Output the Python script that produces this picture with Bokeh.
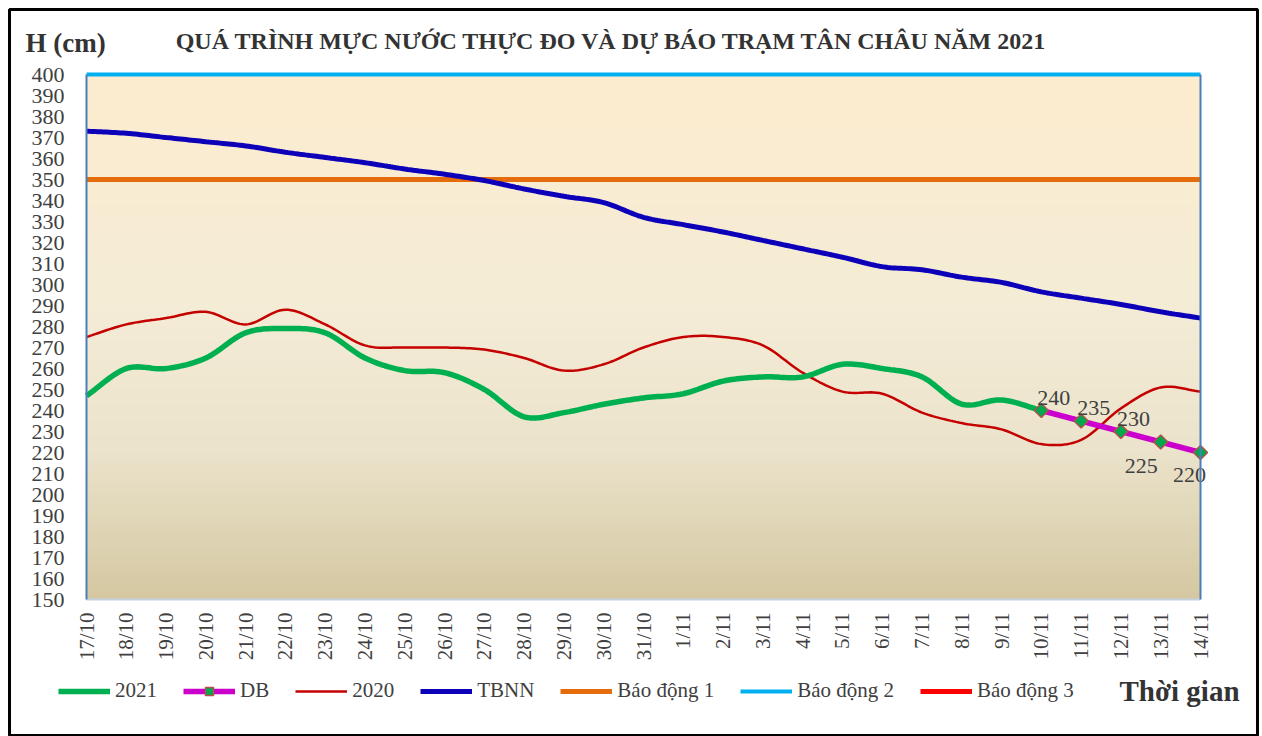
import math
import numpy as np
from bokeh.plotting import figure
from bokeh.models import FixedTicker, Label, Legend, LegendItem, LinearAxis, Range1d
from bokeh.embed import file_html
from bokeh.resources import INLINE
from bokeh.core.properties import value

# ---------------- data ----------------
dates = ["17/10", "18/10", "19/10", "20/10", "21/10", "22/10", "23/10", "24/10",
         "25/10", "26/10", "27/10", "28/10", "29/10", "30/10", "31/10", "1/11",
         "2/11", "3/11", "4/11", "5/11", "6/11", "7/11", "8/11", "9/11", "10/11",
         "11/11", "12/11", "13/11", "14/11"]
h2021 = [247, 260, 260, 265, 277, 279, 277, 265, 259, 258, 250, 237, 239, 243,
         246, 248, 254, 256, 256, 262, 260, 256, 243, 245, 240]
db_dates = ["10/11", "11/11", "12/11", "13/11", "14/11"]
db = [240, 235, 230, 225, 220]
h2020 = [275, 281, 284, 287, 281, 288, 281, 271, 270, 270, 269, 265, 259, 262,
         270, 275, 275, 271, 258, 249, 248, 239, 234, 231, 224, 226, 241, 251, 249]
tbnn = [373, 372, 370, 368, 366, 363, 360.5, 358, 355, 352.5, 349.5, 345.5, 342,
        339, 332, 328.5, 325, 321, 317, 313, 308.5, 307, 303.5, 301, 296.5, 293.5,
        290.5, 287, 284]
bao_dong_1 = 350
bao_dong_2 = 400
bao_dong_3 = 450
y_ticks = list(range(150, 401, 10))

FONT = "Liberation Serif"
TXT = "#404040"

# ---------------- layout (page pixels) ----------------
PAGE_W, PAGE_H = 1260, 736
FRAME_L, FRAME_T, FRAME_R, FRAME_B = 9, 9, 1257, 736      # black box
PLOT_L, PLOT_R, PLOT_T, PLOT_B = 86, 1200, 74, 599        # data area


def smooth(xs, ys, n=14):
    """Catmull-Rom rendering of a line through the given points (Excel-like smoothing)."""
    xs = np.asarray(xs, float)
    ys = np.asarray(ys, float)
    if len(xs) < 3:
        return list(xs), list(ys)
    px = np.concatenate([[2 * xs[0] - xs[1]], xs, [2 * xs[-1] - xs[-2]]])
    py = np.concatenate([[2 * ys[0] - ys[1]], ys, [2 * ys[-1] - ys[-2]]])
    t = np.linspace(0, 1, n, endpoint=False)
    ox, oy = [], []
    for i in range(1, len(px) - 2):
        for P, out in ((px, ox), (py, oy)):
            p0, p1, p2, p3 = P[i - 1], P[i], P[i + 1], P[i + 2]
            out.extend(0.5 * ((2 * p1) + (-p0 + p2) * t + (2 * p0 - 5 * p1 + 4 * p2 - p3) * t ** 2
                              + (-p0 + 3 * p1 - 3 * p2 + p3) * t ** 3))
    ox.append(xs[-1])
    oy.append(ys[-1])
    return ox, oy


xi = {d: i for i, d in enumerate(dates)}
x_all = [xi[d] for d in dates]
x_2021 = [xi[d] for d in dates[:len(h2021)]]
x_db = [xi[d] for d in db_dates]

x0, x1 = x_all[0], x_all[-1]
y0, y1 = y_ticks[0], y_ticks[-1]
kx = (PLOT_R - PLOT_L) / (x1 - x0)
ky = (PLOT_B - PLOT_T) / (y1 - y0)
x_range = Range1d(x0 - (PLOT_L - FRAME_L) / kx, x1 + (FRAME_R - PLOT_R) / kx)
y_range = Range1d(y0 - (FRAME_B - PLOT_B) / ky, y1 + (PLOT_T - FRAME_T) / ky)

p = figure(width=PAGE_W, height=PAGE_H, x_range=x_range, y_range=y_range,
           output_backend="svg", toolbar_location=None,
           min_border_left=FRAME_L, min_border_right=PAGE_W - FRAME_R,
           min_border_top=FRAME_T, min_border_bottom=PAGE_H - FRAME_B)
p.title.visible = False
p.outline_line_color = "black"
p.outline_line_width = 3
p.xgrid.visible = False
p.ygrid.visible = False
p.background_fill_color = "white"
p.border_fill_color = "white"

# background gradient of the plot area
rows = 240
stops_t = [0.0, 0.45, 0.72, 1.0]
stops_c = [(253, 237, 207), (244, 236, 214), (235, 227, 203), (213, 200, 162)]
tt = np.linspace(1.0, 0.0, rows)  # row 0 = bottom
img = np.zeros((rows, 1), dtype=np.uint32)
view = img.view(dtype=np.uint8).reshape((rows, 1, 4))
for k in range(3):
    view[:, 0, k] = np.interp(tt, stops_t, [c[k] for c in stops_c]).astype(np.uint8)
view[:, 0, 3] = 255
p.image_rgba(image=[img], x=x0, y=y0, dw=x1 - x0, dh=y1 - y0, level="image")

# series
r_bd3 = p.line([x0, x1], [bao_dong_3, bao_dong_3], line_color="#FF0000", line_width=5, visible=False)
r_bd2 = p.line([x0, x1], [bao_dong_2, bao_dong_2], line_color="#00B0F0", line_width=4)
r_bd1 = p.line([x0, x1], [bao_dong_1, bao_dong_1], line_color="#E46C0A", line_width=5)
sx, sy = smooth(x_all, tbnn)
r_tbnn = p.line(sx, sy, line_color="#0C00B8", line_width=5)
sx, sy = smooth(x_all, h2020)
r_2020 = p.line(sx, sy, line_color="#C40000", line_width=2.5)
sx, sy = smooth(x_2021, h2021)
r_2021 = p.line(sx, sy, line_color="#00B050", line_width=5.5)
r_db_l = p.line(x_db, db, line_color="#CC00CC", line_width=5.5)
r_db_m = p.scatter(x_db, db, marker="square", size=10, angle=math.pi / 4,
                   fill_color="#00A84F", line_color="#B5504A", line_width=1.5)

# data labels for DB
db_txt = [str(v) for v in db]
p.text(x_db[:3], db[:3], text=db_txt[:3], text_align="left", text_baseline="bottom",
       x_offset=-4, y_offset=-6, text_font=value(FONT), text_font_size="22px", text_color=TXT)
p.text(x_db[3:4], db[3:4], text=db_txt[3:4], text_align="right", text_baseline="top",
       x_offset=-3, y_offset=17, text_font=value(FONT), text_font_size="22px", text_color=TXT)
p.text(x_db[4:], db[4:], text=db_txt[4:], text_align="center", text_baseline="top",
       x_offset=-11, y_offset=15, text_font=value(FONT), text_font_size="22px", text_color=TXT)

# axes (fixed to the data area)
p.xaxis.fixed_location = y0
p.xaxis.bounds = (x0, x1)
p.xaxis.ticker = FixedTicker(ticks=x_all)
p.xaxis.major_label_overrides = {i: d for i, d in enumerate(dates)}
p.xaxis.major_label_orientation = math.pi / 2
p.xaxis.major_label_standoff = 13
p.xaxis.major_tick_out = 0
p.xaxis.major_tick_in = 0
p.xaxis.major_tick_line_color = None
p.xaxis.minor_tick_line_color = None
p.xaxis.axis_line_color = "#C3D1E0"
p.xaxis.axis_line_width = 2
p.xaxis.major_label_text_font = FONT
p.xaxis.major_label_text_font_size = "21px"
p.xaxis.major_label_text_color = TXT

p.yaxis.fixed_location = x0
p.yaxis.bounds = (y0, y1)
p.yaxis.ticker = FixedTicker(ticks=y_ticks)
p.yaxis.major_label_standoff = 22
p.yaxis.major_tick_out = 0
p.yaxis.major_tick_in = 0
p.yaxis.major_tick_line_color = None
p.yaxis.minor_tick_line_color = None
p.yaxis.axis_line_color = "#4A7EBB"
p.yaxis.axis_line_width = 2
p.yaxis.major_label_text_font = FONT
p.yaxis.major_label_text_font_size = "22px"
p.yaxis.major_label_text_color = TXT

right_axis = LinearAxis(fixed_location=x1, bounds=(y0, y1), ticker=FixedTicker(ticks=[]),
                        major_label_text_font_size="0px",
                        major_tick_line_color=None, minor_tick_line_color=None,
                        axis_line_color="#4A7EBB", axis_line_width=2)
p.add_layout(right_axis, "right")

# legend
legend = Legend(items=[
    LegendItem(label="2021", renderers=[r_2021]),
    LegendItem(label="DB", renderers=[r_db_l, r_db_m]),
    LegendItem(label="2020", renderers=[r_2020]),
    LegendItem(label="TBNN", renderers=[r_tbnn]),
    LegendItem(label="Báo động 1", renderers=[r_bd1]),
    LegendItem(label="Báo động 2", renderers=[r_bd2]),
    LegendItem(label="Báo động 3", renderers=[r_bd3]),
], orientation="horizontal", location=(58 - FRAME_L, FRAME_B - 703),
    glyph_width=52, glyph_height=20, label_standoff=5, spacing=26, padding=10, margin=0,
    border_line_color=None, background_fill_alpha=0, label_text_font=FONT,
    label_text_font_size="21px", label_text_color=TXT, click_policy="none")
p.add_layout(legend, "center")

# texts
p.add_layout(Label(x=25 - FRAME_L, y=FRAME_B - 42, x_units="screen", y_units="screen",
                   text="H (cm)", text_align="left", text_baseline="middle", text_font=FONT,
                   text_font_style="bold", text_font_size="27px", text_color="#333333"))
p.add_layout(Label(x=611 - FRAME_L, y=FRAME_B - 40, x_units="screen", y_units="screen",
                   text="QUÁ TRÌNH MỰC NƯỚC THỰC ĐO VÀ DỰ BÁO TRẠM TÂN CHÂU NĂM 2021",
                   text_align="center", text_baseline="middle", text_font=FONT,
                   text_font_style="bold", text_font_size="24px", text_color="#333333"))
p.add_layout(Label(x=1179 - FRAME_L, y=FRAME_B - 690, x_units="screen", y_units="screen",
                   text="Thời gian", text_align="center", text_baseline="middle", text_font=FONT,
                   text_font_style="bold", text_font_size="29px", text_color="#333333"))

open("out.html", "w").write(file_html(p, INLINE))
